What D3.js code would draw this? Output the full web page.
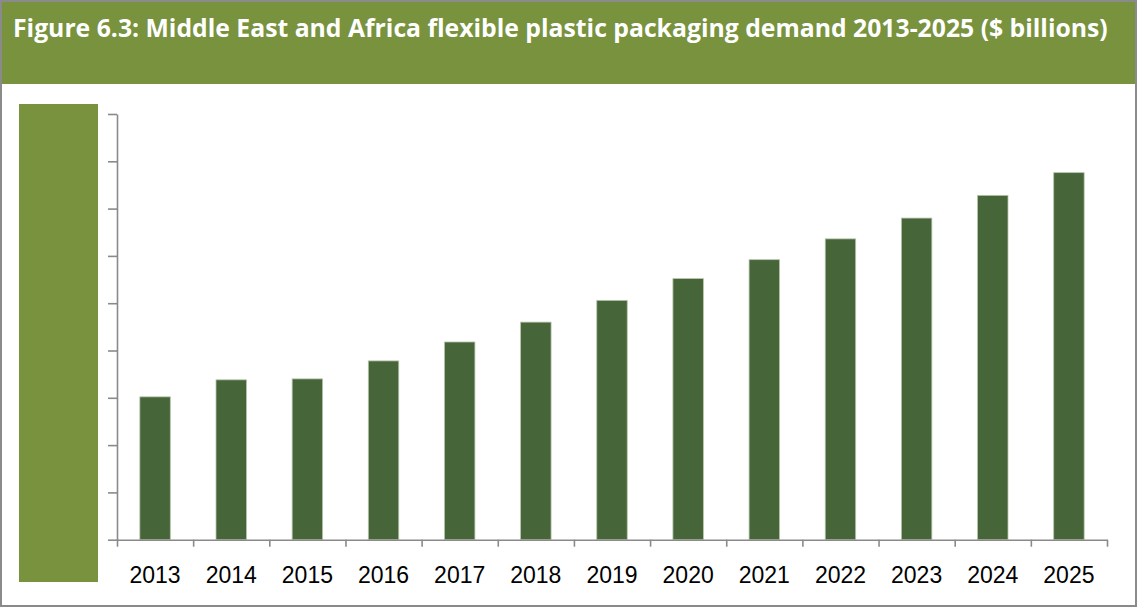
<!DOCTYPE html>
<html>
<head>
<meta charset="utf-8">
<script src="https://cdn.jsdelivr.net/npm/d3@7"></script>
<style>
  html, body { margin: 0; padding: 0; background: #fff; }
  svg { display: block; }
</style>
</head>
<body>
<div id="root"></div>
<script>
const WIDTH = 1138;
const HEIGHT = 607;
const MARGIN = {top: 114, right: 31, bottom: 67, left: 117};

const TITLE = "Figure 6.3: Middle East and Africa flexible plastic packaging demand 2013-2025 ($ billions)";
const years = ["2013", "2014", "2015", "2016", "2017", "2018", "2019", "2020", "2021", "2022", "2023", "2024", "2025"];
const demand = [1.51, 1.69, 1.70, 1.89, 2.09, 2.30, 2.53, 2.76, 2.96, 3.18, 3.40, 3.64, 3.88];
const yTicks = [0, 0.5, 1, 1.5, 2, 2.5, 3, 3.5, 4, 4.5];

const HEADER_GREEN = "#78923d";
const BAR_GREEN = "#466639";
const AXIS_GREY = "#8a8a8a";

const svg = d3.select("#root")
    .append("svg")
    .attr("width", WIDTH)
    .attr("height", HEIGHT);

// frame + header band
svg.append("rect")
    .attr("x", 1).attr("y", 1)
    .attr("width", WIDTH - 3).attr("height", HEIGHT - 2)
    .attr("fill", "#fff")
    .attr("stroke", AXIS_GREY)
    .attr("stroke-width", 2);

svg.append("rect")
    .attr("x", 2).attr("y", 2)
    .attr("width", WIDTH - 5).attr("height", 82)
    .attr("fill", HEADER_GREEN);

const title = svg.append("text")
    .attr("x", 13)
    .attr("y", 37)
    .attr("fill", "#fff")
    .style("font-family", "'Open Sans', sans-serif")
    .style("font-weight", "bold")
    .style("font-size", "24px")
    .text(TITLE);

// squeeze the title to the width it takes in the original
const wanted = 1095;
const got = title.node().getComputedTextLength();
title.style("font-size", (24 * wanted / got).toFixed(2) + "px");

const x = d3.scaleBand()
    .domain(years)
    .range([MARGIN.left, WIDTH - MARGIN.right])
    .paddingInner(0.6)
    .paddingOuter(0.3);

// boundaries between categories, used for the x tick marks
const xEdges = d3.scaleLinear()
    .domain([0, years.length])
    .range([MARGIN.left, WIDTH - MARGIN.right]);

const y = d3.scaleLinear()
    .domain([0, 4.5])
    .range([HEIGHT - MARGIN.bottom - 0.3, MARGIN.top]);

// bars
svg.append("g")
    .selectAll("rect")
    .data(years.map((yr, i) => ({year: yr, value: demand[i]})))
    .join("rect")
    .attr("x", d => x(d.year))
    .attr("y", d => y(d.value))
    .attr("width", x.bandwidth())
    .attr("height", d => y(0) - y(d.value))
    .attr("fill", BAR_GREEN)
    .attr("stroke", "#b9c4ad")
    .attr("stroke-width", 0.8);

// y axis (labels are hidden behind the green block)
const yAxis = svg.append("g")
    .attr("transform", `translate(${MARGIN.left}, 0)`)
    .call(d3.axisLeft(y).tickValues(yTicks).tickSize(9).tickSizeOuter(0).tickFormat(""));

// x axis
const xAxis = svg.append("g")
    .attr("transform", `translate(0, ${y(0)})`)
    .call(d3.axisBottom(xEdges).ticks(years.length).tickSize(7).tickSizeOuter(0).tickFormat(""));

[yAxis, xAxis].forEach(g => {
    g.selectAll("path, line")
        .attr("stroke", AXIS_GREY)
        .attr("stroke-width", 1.6);
});

svg.append("g")
    .selectAll("text")
    .data(years)
    .join("text")
    .attr("x", d => x(d) + x.bandwidth() / 2)
    .attr("y", 583)
    .attr("text-anchor", "middle")
    .attr("fill", "#000")
    .style("font-family", "'Liberation Sans', Arial, sans-serif")
    .style("font-size", "23px")
    .text(d => d);

// green block covering the y labels
svg.append("rect")
    .attr("x", 19)
    .attr("y", 104)
    .attr("width", 79)
    .attr("height", 478)
    .attr("fill", HEADER_GREEN);
</script>
</body>
</html>
